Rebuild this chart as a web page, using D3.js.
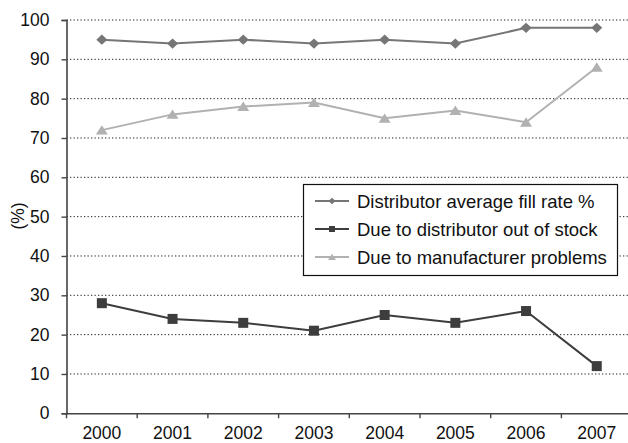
<!DOCTYPE html>
<html><head><meta charset="utf-8">
<script src="https://cdn.jsdelivr.net/npm/d3@7"></script>
<style>body{margin:0;background:#fff}svg{display:block}</style>
</head><body>
<script>
const years = ["2000","2001","2002","2003","2004","2005","2006","2007"];
const fillRate = [95,94,95,94,95,94,98,98];
const outOfStock = [28,24,23,21,25,23,26,12];
const manufacturer = [72,76,78,79,75,77,74,88];
const yTicks = [0,10,20,30,40,50,60,70,80,90,100];
const seriesNames = ["Distributor average fill rate %","Due to distributor out of stock","Due to manufacturer problems"];

(function(){
const W=628,H=443;
const svg=d3.select("body").append("svg").attr("width",W).attr("height",H);
const pLeft=66.5, bw=70.7, pTop=20, pBottom=413.3;
const x=d3.scaleBand().domain(years).range([pLeft,pLeft+bw*years.length]).padding(0);
const y=d3.scaleLinear().domain([0,100]).range([pBottom,pTop]);
const font="Liberation Sans, Arial, Helvetica, sans-serif";

// grid
svg.append("g").selectAll("line").data(yTicks.filter(d=>d>0)).join("line")
 .attr("x1",pLeft).attr("x2",W).attr("y1",d=>y(d)).attr("y2",d=>y(d))
 .attr("stroke","#222").attr("stroke-width",1).attr("stroke-dasharray","1.3,2.2");

// y axis
const ya=svg.append("g").attr("transform",`translate(${pLeft},0)`).call(d3.axisLeft(y).tickValues(yTicks).tickSize(5).tickPadding(12));
ya.select(".domain").attr("stroke","#444").attr("stroke-width",1.6);
ya.selectAll(".tick line").attr("stroke","#444").attr("stroke-width",1.4);
ya.selectAll("text").attr("font-family",font).attr("font-size",17.5).attr("fill","#111");

// x axis
const xa=svg.append("g").attr("transform",`translate(0,${pBottom})`).call(d3.axisBottom(x).tickSize(0));
xa.select(".domain").attr("stroke","#444").attr("stroke-width",1.6);
xa.selectAll("text").attr("font-family",font).attr("font-size",17.5).attr("fill","#111").attr("y",25.7).attr("dy",0);
svg.append("g").selectAll("line").data(years).join("line")
 .attr("x1",d=>x(d)).attr("x2",d=>x(d)).attr("y1",pBottom).attr("y2",pBottom+5)
 .attr("stroke","#444").attr("stroke-width",1.4);

svg.append("text").attr("transform",`translate(18,216) rotate(-90)`).attr("text-anchor","middle").attr("dy","0.35em")
 .attr("font-family",font).attr("font-size",17.5).attr("fill","#111").text("(%)");

const diamond={draw(ctx,size){const w=Math.sqrt(size)*0.6,h=w*0.92;ctx.moveTo(0,-h);ctx.lineTo(w,0);ctx.lineTo(0,h);ctx.lineTo(-w,0);ctx.closePath();}};
const tri={draw(ctx,size){const w=Math.sqrt(size)*0.6,h=w*0.78;ctx.moveTo(0,-h*1.05);ctx.lineTo(w,h*0.95);ctx.lineTo(-w,h*0.95);ctx.closePath();}};
const cx=d=>x(d)+x.bandwidth()/2;
const series=[
 {name:seriesNames[0],vals:fillRate,color:"#767676",sym:diamond,size:85,lsize:34},
 {name:seriesNames[1],vals:outOfStock,color:"#3d3d3d",sym:d3.symbolSquare,size:100,lsize:36},
 {name:seriesNames[2],vals:manufacturer,color:"#b1b1b1",sym:tri,size:100,lsize:44}
];
const line=d3.line().x((d,i)=>cx(years[i])).y(d=>y(d));
series.forEach(s=>{
 svg.append("path").datum(s.vals).attr("d",line).attr("fill","none").attr("stroke",s.color).attr("stroke-width",2);
 svg.append("g").selectAll("path").data(s.vals).join("path")
  .attr("transform",(d,i)=>`translate(${cx(years[i])},${y(d)})`)
  .attr("d",d3.symbol().type(s.sym).size(s.size)).attr("fill",s.color);
});

const lg=svg.append("g");
lg.append("rect").attr("x",303.5).attr("y",184.5).attr("width",314).attr("height",91)
 .attr("fill","#fff").attr("stroke","#111").attr("stroke-width",1.2);
series.forEach((s,i)=>{
 const ly=201+i*28;
 lg.append("line").attr("x1",315).attr("x2",349).attr("y1",ly).attr("y2",ly).attr("stroke",s.color).attr("stroke-width",2);
 lg.append("path").attr("transform",`translate(332,${ly})`).attr("d",d3.symbol().type(s.sym).size(s.lsize)).attr("fill",s.color);
 lg.append("text").attr("x",357).attr("y",ly+6.5).attr("font-family",font).attr("font-size",18.5).attr("fill","#111").text(s.name);
});
})();
</script>
</body></html>
